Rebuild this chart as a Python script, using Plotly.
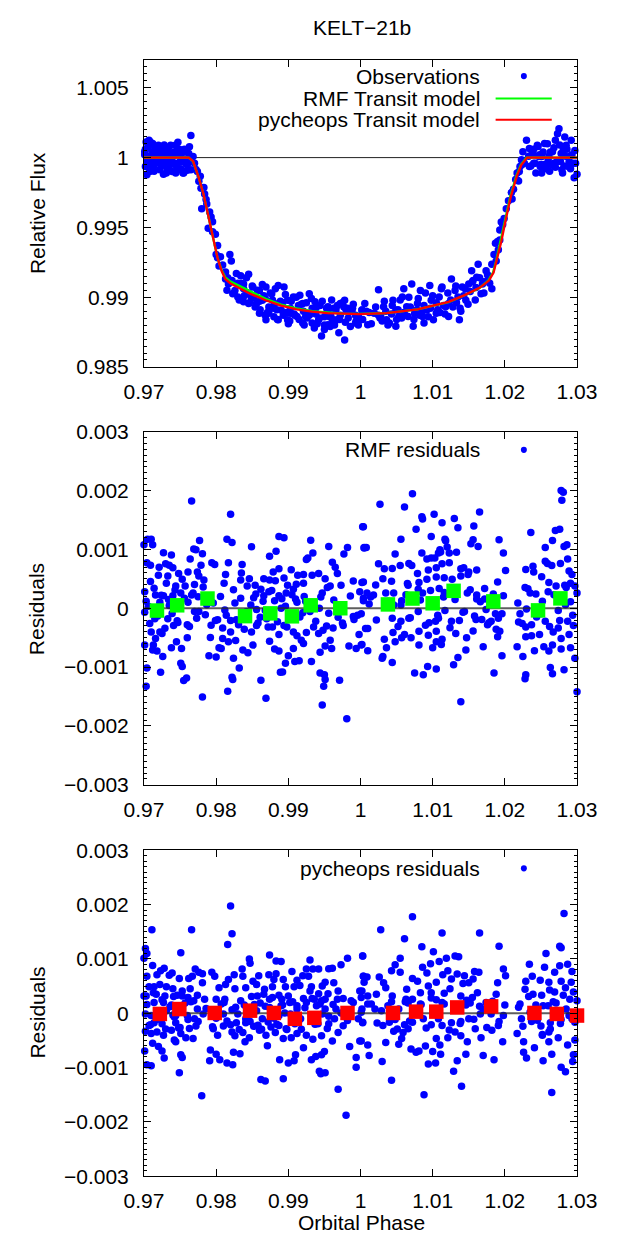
import numpy as np
import plotly.graph_objects as go

FONT = "Liberation Sans, Arial, sans-serif"

# ---- observations (top panel) ----
obs_phase = [
    0.9703, 0.9707, 0.9712, 0.9701, 0.9705, 0.9702, 0.9704, 0.9710, 0.9716, 0.9720, 0.9722, 0.9727,
    0.9729, 0.9733, 0.9735, 0.9737, 0.9740, 0.9743, 0.9746, 0.9748, 0.9752, 0.9755, 0.9757, 0.9759,
    0.9761, 0.9763, 0.9765, 0.9765, 0.9768, 0.9770, 0.9714, 0.9718, 0.9731, 0.9744, 0.9725, 0.9750,
    0.9702, 0.9706, 0.9712, 0.9719, 0.9723, 0.9728, 0.9731, 0.9736, 0.9741, 0.9744, 0.9748, 0.9751,
    0.9756, 0.9759, 0.9762, 0.9747, 0.9709, 0.9727, 0.9739, 0.9754,
    0.9701, 0.9704, 0.9706, 0.9708, 0.9711, 0.9713, 0.9715, 0.9717, 0.9721, 0.9724, 0.9726, 0.9730,
    0.9732, 0.9734, 0.9738, 0.9742, 0.9745, 0.9749, 0.9753, 0.9758, 0.9760, 0.9764,
    0.9772, 0.9778, 0.9783, 0.9780, 0.9787, 0.9793, 0.9789, 0.9795, 0.9800, 0.9802, 0.9819, 0.9821,
    0.9804, 0.9813, 0.9817, 0.9815, 0.9823, 0.9774, 0.9776, 0.9779, 0.9784, 0.9786, 0.9791, 0.9795,
    0.9799, 0.9802, 0.9806, 0.9809, 0.9813, 0.9816,
    0.9834, 0.9845, 0.9838, 0.9826, 0.9830, 0.9843, 0.9851, 0.9860, 0.9849, 0.9864, 0.9869, 0.9877,
    0.9886, 0.9894, 0.9881, 0.9890, 0.9873, 0.9860, 0.9869, 0.9899, 0.9907, 0.9916, 0.9920, 0.9929,
    0.9937, 0.9903, 0.9912, 0.9924, 0.9933, 0.9942, 0.9946, 0.9950, 0.9959, 0.9963, 0.9972, 0.9978,
    0.9980, 0.9989, 0.9997, 0.9993, 1.0002, 0.9937, 0.9955, 0.9967, 0.9978, 0.9970, 0.9931, 0.9899,
    0.9920, 0.9886, 0.9845, 0.9838, 0.9856, 0.9955,
    0.9830, 0.9838, 0.9845, 0.9852, 0.9860, 0.9866, 0.9873, 0.9878, 0.9884, 0.9892, 0.9897, 0.9903,
    0.9909, 0.9914, 0.9921, 0.9926, 0.9933, 0.9938, 0.9944, 0.9950, 0.9955, 0.9961, 0.9966, 0.9972,
    0.9977, 0.9983, 0.9988, 0.9994, 0.9868, 0.9880, 0.9902, 0.9940, 0.9958,
    0.9822, 0.9825, 0.9828, 0.9832, 0.9835, 0.9839, 0.9842, 0.9846, 0.9850, 0.9854, 0.9857, 0.9861,
    0.9864, 0.9868, 0.9871, 0.9875, 0.9879, 0.9882, 0.9885, 0.9889, 0.9893, 0.9896, 0.9900, 0.9904,
    0.9908, 0.9911, 0.9915, 0.9918, 0.9922, 0.9925, 0.9929, 0.9932, 0.9936, 0.9939, 0.9943, 0.9947,
    0.9950, 0.9953, 0.9957, 0.9960, 0.9964, 0.9968, 0.9971, 0.9975, 0.9979, 0.9982, 0.9986, 0.9990,
    0.9993, 0.9997,
    0.9997, 1.0002, 0.9995, 1.0010, 1.0006, 1.0019, 1.0025, 1.0028, 1.0036, 1.0032, 1.0040, 1.0045,
    1.0049, 1.0053, 1.0058, 1.0060, 1.0064, 1.0071, 1.0073, 1.0075, 1.0079, 1.0083, 1.0086, 1.0092,
    1.0096, 1.0098, 1.0105, 1.0109, 1.0113, 1.0118, 1.0122, 1.0126, 1.0131, 1.0135, 1.0137, 1.0141,
    1.0146, 1.0150, 1.0154, 1.0156, 1.0163, 1.0161, 1.0167, 1.0169, 1.0176, 1.0182, 1.0122, 1.0101,
    1.0088, 1.0049, 1.0066,
    1.0012, 1.0025, 1.0035, 1.0043, 1.0052, 1.0060, 1.0069, 1.0078, 1.0088, 1.0097, 1.0105, 1.0115,
    1.0125, 1.0133, 1.0143, 1.0152, 1.0160, 1.0170, 1.0176, 1.0003, 1.0030, 1.0057, 1.0082, 1.0110,
    1.0138,
    1.0008, 1.0015, 1.0021, 1.0027, 1.0033, 1.0038, 1.0044, 1.0050, 1.0055, 1.0062, 1.0067, 1.0074,
    1.0080, 1.0085, 1.0090, 1.0094, 1.0100, 1.0107, 1.0112, 1.0117, 1.0121, 1.0128, 1.0132, 1.0139,
    1.0145, 1.0149, 1.0155, 1.0159, 1.0165, 1.0171, 1.0174, 1.0179,
    1.0182, 1.0185, 1.0187, 1.0190, 1.0193, 1.0195, 1.0199, 1.0202, 1.0210, 1.0212, 1.0215, 1.0219,
    1.0217, 1.0221, 1.0223, 1.0225, 1.0227, 1.0197, 1.0205, 1.0209, 1.0217, 1.0220, 1.0224, 1.0188,
    1.0191, 1.0193,
    1.0230, 1.0234, 1.0238, 1.0240, 1.0245, 1.0249, 1.0251, 1.0255, 1.0260, 1.0262, 1.0266, 1.0270,
    1.0273, 1.0275, 1.0277, 1.0279, 1.0281, 1.0285, 1.0288, 1.0290, 1.0292, 1.0294, 1.0296, 1.0234,
    1.0247, 1.0257, 1.0268, 1.0283, 1.0251,
    1.0233, 1.0240, 1.0248, 1.0255, 1.0263, 1.0270, 1.0276, 1.0284, 1.0291, 1.0297, 1.0243, 1.0259,
    1.0280,
    1.0236, 1.0239, 1.0242, 1.0246, 1.0250, 1.0253, 1.0256, 1.0261, 1.0264, 1.0268, 1.0272, 1.0278,
    1.0282, 1.0286, 1.0289, 1.0293, 1.0298, 1.0300,
]
obs_flux = [
    1.00112, 1.00124, 1.00101, 1.00042, 1.00007, 0.99937, 0.99878, 0.99960, 1.00030, 1.00089, 0.99913, 1.00065,
    0.99984, 1.00042, 0.99937, 1.00089, 1.00007, 0.99960, 1.00065, 0.99913, 1.00030, 0.99890, 0.99984, 1.00054,
    0.99960, 1.00077, 1.00159, 0.99913, 1.00007, 0.99960, 0.99902, 0.99984, 0.99890, 0.99890, 1.00007, 0.99972,
    1.00060, 0.99930, 1.00000, 1.00060, 0.99980, 1.00090, 0.99950, 1.00020, 0.99960, 1.00090, 1.00020, 0.99920,
    1.00060, 0.99950, 1.00030, 1.00110, 1.00110, 0.99880, 0.99900, 0.99890,
    1.00020, 0.99970, 1.00080, 0.99900, 1.00040, 0.99930, 1.00070, 0.99960, 1.00030, 0.99940, 1.00050, 1.00010,
    0.99920, 1.00070, 0.99980, 1.00040, 0.99940, 1.00060, 0.99970, 1.00040, 0.99910, 0.99990,
    0.99914, 0.99867, 0.99785, 0.99633, 0.99668, 0.99575, 0.99493, 0.99469, 0.99306, 0.99282, 0.99306, 0.99259,
    0.99224, 0.99130, 0.99095, 0.99049, 0.99025, 0.99900, 0.99830, 0.99780, 0.99740, 0.99700, 0.99610, 0.99540,
    0.99450, 0.99370, 0.99290, 0.99230, 0.99180, 0.99140,
    0.99154, 0.99165, 0.99095, 0.99048, 0.99002, 0.99025, 0.99072, 0.99048, 0.98990, 0.98978, 0.99072, 0.99025,
    0.99084, 0.99072, 0.98955, 0.98908, 0.98885, 0.98885, 0.98838, 0.98978, 0.99002, 0.99013, 0.98955, 0.99025,
    0.98967, 0.98885, 0.98862, 0.98862, 0.98815, 0.98838, 0.98721, 0.98768, 0.98862, 0.98920, 0.98955, 0.98978,
    0.98908, 0.98920, 0.98862, 0.98815, 0.98908, 0.98908, 0.98932, 0.98838, 0.98693, 0.98745, 0.98885, 0.98838,
    0.98815, 0.98838, 0.98955, 0.98967, 0.98955, 0.98803,
    0.99100, 0.99060, 0.99030, 0.99000, 0.98970, 0.99010, 0.98930, 0.98980, 0.98910, 0.98960, 0.98890, 0.98920,
    0.98870, 0.98940, 0.98900, 0.98850, 0.98920, 0.98880, 0.98940, 0.98860, 0.98900, 0.98840, 0.98910, 0.98870,
    0.98930, 0.98850, 0.98900, 0.98830, 0.98870, 0.98860, 0.98830, 0.98810, 0.98790,
    0.99120, 0.99030, 0.99170, 0.98980, 0.99100, 0.99010, 0.99140, 0.98960, 0.99080, 0.98930, 0.99050, 0.98910,
    0.99090, 0.98990, 0.98890, 0.99030, 0.98920, 0.99060, 0.98840, 0.98970, 0.98870, 0.99020, 0.98810, 0.98970,
    0.98880, 0.99000, 0.98840, 0.98950, 0.98800, 0.98960, 0.98870, 0.98990, 0.98780, 0.98930, 0.98850, 0.98970,
    0.98800, 0.98920, 0.98860, 0.98980, 0.98800, 0.98940, 0.98840, 0.98960, 0.98820, 0.98920, 0.98790, 0.98950,
    0.98870, 0.98800,
    0.98862, 0.98908, 0.98815, 0.98803, 0.98955, 0.98885, 0.99053, 0.98862, 0.98838, 0.98932, 0.98815, 0.98978,
    0.98908, 0.98862, 0.99002, 0.99060, 0.98932, 0.99095, 0.98791, 0.98885, 0.98955, 0.99048, 0.98862, 0.98908,
    0.99084, 0.98978, 0.98885, 0.99002, 0.99072, 0.98932, 0.98955, 0.99130, 0.99048, 0.99002, 0.98838, 0.99072,
    0.98978, 0.99095, 0.99189, 0.99119, 0.99235, 0.99142, 0.99025, 0.99095, 0.99119, 0.99060, 0.98862, 0.98838,
    0.98815, 0.98791, 0.98862,
    0.98890, 0.98870, 0.98900, 0.98880, 0.98910, 0.98890, 0.98930, 0.98910, 0.98940, 0.98920, 0.98960, 0.98940,
    0.98980, 0.98960, 0.99010, 0.99040, 0.99070, 0.99110, 0.99160, 0.98840, 0.98830, 0.98850, 0.98870, 0.98890,
    0.98920,
    0.98900, 0.98810, 0.98930, 0.98850, 0.98970, 0.98800, 0.98940, 0.98840, 0.98980, 0.98870, 0.99000, 0.98840,
    0.98990, 0.98890, 0.99030, 0.98860, 0.99010, 0.98910, 0.99060, 0.98880, 0.99030, 0.98930, 0.99080, 0.98900,
    0.99060, 0.98950, 0.99110, 0.98980, 0.99140, 0.99030, 0.99190, 0.99100,
    0.99235, 0.99306, 0.99387, 0.99399, 0.99481, 0.99539, 0.99563, 0.99633, 0.99703, 0.99773, 0.99843, 0.99832,
    0.99890, 0.99937, 0.99984, 1.00042, 0.99960, 0.99520, 0.99690, 0.99750, 0.99840, 0.99900, 0.99950, 0.99260,
    0.99340, 0.99410,
    1.00124, 1.00065, 1.00030, 0.99960, 1.00089, 0.99937, 1.00007, 1.00101, 0.99984, 0.99902, 1.00042, 1.00124,
    1.00171, 1.00206, 0.99972, 0.99913, 1.00054, 1.00089, 0.99937, 1.00007, 1.00124, 0.99960, 0.99855, 0.99937,
    1.00007, 0.99937, 0.99960, 1.00147, 0.99890,
    1.00010, 1.00060, 1.00020, 0.99950, 1.00040, 0.99930, 1.00090, 1.00010, 0.99920, 1.00050, 0.99890, 1.00100,
    0.99890,
    0.99940, 1.00030, 0.99960, 1.00080, 0.99950, 1.00040, 0.99920, 1.00010, 0.99950, 1.00070, 0.99970, 1.00030,
    0.99940, 1.00060, 0.99970, 1.00020, 0.99960, 0.99880,
]

# transit models
model_phase = [0.9700, 0.9762, 0.9768, 0.9776, 0.97825, 0.9789, 0.97954, 0.98019, 0.98075, 0.98126, 0.9820,
               0.98255, 0.9847, 0.98685, 0.9890, 0.99115, 0.9933, 0.99545, 0.9975, 0.9998, 1.0036, 1.0079,
               1.0122, 1.01435, 1.0165, 1.0178, 1.01844, 1.01887, 1.01951, 1.02016, 1.0208, 1.02166, 1.0223,
               1.0231, 1.0300]
pyc_model_flux = [1.0, 1.0, 0.99975, 0.99855, 0.99738, 0.99586, 0.99446, 0.99282, 0.99189, 0.99130, 0.99098,
                  0.99084, 0.99025, 0.98978, 0.98939, 0.98913, 0.98896, 0.98885, 0.98880, 0.98878, 0.98885,
                  0.98913, 0.98967, 0.99013, 0.99067, 0.99119, 0.99177, 0.99259, 0.99399, 0.99563, 0.99715,
                  0.99867, 0.99949, 1.0, 1.0]
rmf_model_phase = [0.9700, 0.9762, 0.9768, 0.9776, 0.97825, 0.9789, 0.97954, 0.98019, 0.98075, 0.98126, 0.9820,
                   0.98255, 0.9847, 0.98685, 0.9890, 0.99115, 0.9933, 0.99545, 0.9975, 0.9998, 1.0036, 1.0079,
                   1.0122, 1.01435, 1.0165, 1.0177, 1.01836, 1.01879, 1.01943, 1.02008, 1.02072, 1.02158,
                   1.02222, 1.0230, 1.0300]
rmf_model_flux = [1.0, 1.0, 0.99972, 0.99855, 0.99738, 0.99586, 0.99446, 0.99282, 0.99195, 0.99142, 0.99112,
                  0.99098, 0.99038, 0.98988, 0.98947, 0.98919, 0.98900, 0.98888, 0.98882, 0.98880, 0.98886,
                  0.98912, 0.98965, 0.99012, 0.99066, 0.99119, 0.99177, 0.99259, 0.99399, 0.99563, 0.99715,
                  0.99867, 0.99949, 1.0, 1.0]

# ---- RMF residuals (ppm) ----
rmf_phase = [
    0.9766, 0.9820, 1.0003, 0.9705, 0.9710, 0.9700, 0.9712, 0.9777, 0.9815, 0.9822, 0.9849, 0.9887,
    0.9894, 0.9931, 0.9956, 0.9982, 1.0005, 0.9769, 0.9772, 0.9781, 0.9764, 0.9727, 0.9738, 0.9704,
    0.9709, 0.9730, 0.9735, 0.9779, 0.9794, 0.9798, 0.9817, 0.9836, 0.9874, 0.9883, 0.9925, 0.9927,
    0.9934, 0.9977, 0.9961, 0.9965, 0.9721, 0.9740, 0.9761, 0.9774, 0.9813, 0.9835, 0.9866, 0.9874,
    0.9882, 0.9894, 0.9904, 0.9913, 0.9921, 0.9933, 0.9942, 0.9951, 0.9968, 0.9720, 0.9733, 0.9748,
    0.9753, 0.9776, 0.9783, 0.9811, 0.9824, 0.9834, 0.9846, 0.9854, 0.9862, 0.9879, 0.9887, 0.9899,
    0.9911, 0.9921, 0.9958, 0.9973, 0.9990, 1.0004, 0.9709, 0.9731, 0.9744, 0.9757, 0.9770, 0.9782,
    0.9716, 0.9727, 0.9740, 0.9751, 0.9766, 0.9775, 0.9796, 0.9834, 0.9843, 0.9855, 0.9866, 0.9873,
    0.9887, 0.9897, 0.9907, 0.9910, 0.9922, 0.9947, 0.9954, 0.9999, 1.0004, 0.9701, 0.9706, 0.9722,
    0.9735, 0.9761, 0.9770, 0.9785, 0.9802, 0.9812, 0.9820, 0.9828, 0.9848, 0.9856, 0.9861, 0.9868,
    0.9881, 0.9890, 0.9896, 0.9912, 0.9920, 0.9930, 0.9943, 0.9956, 0.9969, 0.9990, 1.0001, 0.9701,
    0.9715, 0.9733, 0.9746, 0.9741, 0.9760, 0.9776, 0.9792, 0.9799, 0.9809, 0.9820, 0.9827, 0.9839,
    0.9849, 0.9856, 0.9872, 0.9878, 0.9887, 0.9894, 0.9901, 0.9907, 0.9912, 0.9918, 0.9925, 0.9935,
    0.9942, 0.9948, 0.9958, 0.9962, 0.9976, 0.9991, 0.9998, 1.0007, 0.9710, 0.9716, 0.9722, 0.9713,
    0.9725, 0.9745, 0.9752, 0.9738, 0.9712, 0.9718, 0.9726, 0.9701, 0.9760, 0.9790, 0.9800, 0.9804,
    0.9817, 0.9824, 0.9837, 0.9844, 0.9851, 0.9874, 0.9881, 0.9887, 0.9900, 0.9896, 0.9909, 0.9915,
    0.9907, 0.9921, 0.9932, 0.9944, 0.9951, 0.9960, 0.9984, 0.9994, 1.0001, 0.9751, 0.9753, 0.9723,
    0.9704, 0.9703, 0.9755, 0.9759, 0.9822, 0.9823, 0.9832, 0.9889, 0.9892, 0.9944, 0.9950, 0.9951,
    0.9949, 0.9971, 0.9862, 0.9781, 0.9816, 0.9869, 0.9947, 0.9981, 0.9809, 0.9807,
    1.0072, 1.0027, 1.0061, 1.0278, 1.0281, 1.0279, 1.0004, 1.0165, 1.0130, 1.0085, 1.0086, 1.0102,
    1.0113, 1.0077, 1.0135, 1.0157, 1.0236, 1.0276, 1.0270, 1.0056, 1.0005, 1.0008, 1.0117, 1.0118,
    1.0156, 1.0153, 1.0163, 1.0192, 1.0198, 1.0266, 1.0256, 1.0282, 1.0286, 1.0048, 1.0098, 1.0110,
    1.0108, 1.0111, 1.0120, 1.0123, 1.0133, 1.0085, 1.0092, 1.0098, 1.0103, 1.0113, 1.0123, 1.0287,
    1.0256, 1.0259, 1.0277, 1.0025, 1.0033, 1.0044, 1.0055, 1.0067, 1.0071, 1.0079, 1.0094, 1.0105,
    1.0139, 1.0143, 1.0150, 1.0161, 1.0201, 1.0229, 1.0239, 1.0240, 1.0265, 1.0289, 1.0293, 1.0002,
    1.0021, 1.0031, 1.0043, 1.0065, 1.0081, 1.0092, 1.0105, 1.0116, 1.0127, 1.0139, 1.0149, 1.0172,
    1.0190, 1.0228, 1.0251, 1.0261, 1.0271, 1.0283, 1.0291, 1.0297, 1.0009, 1.0018, 1.0035, 1.0046,
    1.0057, 1.0066, 1.0080, 1.0086, 1.0109, 1.0116, 1.0126, 1.0152, 1.0161, 1.0172, 1.0198, 1.0235,
    1.0243, 1.0260, 1.0285, 1.0300, 1.0004, 1.0012, 1.0046, 1.0056, 1.0080, 1.0117, 1.0142, 1.0144,
    1.0161, 1.0174, 1.0187, 1.0196, 1.0221, 1.0230, 1.0250, 1.0274, 1.0291, 1.0044, 1.0056, 1.0067,
    1.0095, 1.0104, 1.0108, 1.0126, 1.0160, 1.0168, 1.0181, 1.0219, 1.0229, 1.0237, 1.0256, 1.0274,
    1.0287, 1.0295, 1.0010, 1.0033, 1.0045, 1.0057, 1.0061, 1.0070, 1.0081, 1.0094, 1.0105, 1.0113,
    1.0132, 1.0147, 1.0156, 1.0190, 1.0193, 1.0229, 1.0237, 1.0248, 1.0267, 1.0278, 1.0289, 1.0002,
    1.0010, 1.0036, 1.0048, 1.0081, 1.0100, 1.0105, 1.0112, 1.0146, 1.0170, 1.0196, 1.0217, 1.0225,
    1.0241, 1.0254, 1.0261, 1.0266, 1.0278, 1.0291, 1.0297, 1.0031, 1.0044, 1.0030, 1.0135, 1.0129,
    1.0075, 1.0087, 1.0093, 1.0105, 1.0185, 1.0229, 1.0228, 1.0263, 1.0266, 1.0282, 1.0300, 1.0139,
    1.0178, 1.0188,
    0.9703, 0.9708, 0.9714, 0.9719, 0.9724, 0.9729, 0.9734, 0.9739, 0.9743, 0.9747, 0.9756, 0.9763,
    0.9768, 0.9773, 0.9787, 0.9793, 0.9806, 0.9814, 0.9826, 0.9831, 0.9842, 0.9852, 0.9858, 0.9865,
    0.9870, 0.9877, 0.9885, 0.9891, 0.9898, 0.9905, 0.9916, 0.9924, 0.9938, 0.9945, 0.9953, 0.9963,
    0.9975, 0.9986, 0.9996, 1.0014, 1.0022, 1.0039, 1.0052, 1.0063, 1.0069, 1.0083, 1.0090, 1.0097,
    1.0107, 1.0115, 1.0124, 1.0131, 1.0137, 1.0148, 1.0158, 1.0166, 1.0176, 1.0184, 1.0191, 1.0218,
    1.0224, 1.0232, 1.0244, 1.0252, 1.0262, 1.0268, 1.0276, 1.0284, 1.0294,
]
rmf_resid_ppm = [
    1821, 1598, 1386, 1173, 1173, 1078, 1078, 1151, 1173, 1117, 1045, 1218,
    1196, 1157, 1050, 1034, 1022, 1006, 994, 927, 838, 944, 905, 771,
    732, 754, 732, 732, 771, 743, 771, 743, 883, 967, 827, 855,
    939, 922, 782, 698, 698, 687, 615, 615, 575, 598, 503, 480,
    469, 514, 654, 559, 575, 559, 592, 503, 592, 559, 548, 592,
    492, 548, 480, 425, 313, 480, 503, 391, 324, 615, 670, 391,
    408, 425, 380, 391, 464, 447, 453, 425, 380, 380, 402, 363,
    223, 212, 212, 257, 223, 196, 89, 168, 380, 240, 212, 279,
    212, 257, 324, 156, 201, 257, 352, 279, 128, 279, 34, 101,
    45, 101, -56, -112, -196, -28, -207, -196, 56, -22, -151, -39,
    128, 0, 34, 101, -78, -56, 0, -84, -151, -140, -95, -67,
    -179, -179, -212, -291, -279, -56, -497, -207, -335, -402, -548, -358,
    -402, -291, -318, -318, -447, -291, -190, -402, -469, -542, -413, -318,
    -430, -374, -542, -335, -291, -190, -447, -346, -402, -514, -402, -626,
    -430, -570, -682, -670, -710, -726, -821, -626, -503, -805, -827, -670,
    -570, -849, -710, -754, -626, -559, -693, -726, -805, -933, -905, -894,
    -682, -598, -905, -749, -643, -682, -643, -682, -626, -933, -989, -1089,
    -1017, -1324, -1229, -1184, -1173, -1212, -1017, -1089, -1084, -1101, -1128, -1212,
    -1324, -1224, -1224, -1508, -1408, -1531, -1643, -1877, -514, -682,
    1944, 1765, 1721, 2000, 1972, 1833, 1386, 1637, 1525, 1553, 1514, 1598,
    1453, 1341, 1369, 1397, 1285, 1341, 1319, 1173, 1034, 1034, 1173, 1145,
    1162, 1095, 1050, 1162, 939, 1151, 1034, 1050, 1078, 922, 1218, 994,
    939, 955, 1039, 939, 950, 939, 838, 855, 855, 754, 771, 838,
    799, 760, 760, 754, 670, 676, 726, 760, 726, 592, 648, 687,
    670, 687, 615, 648, 642, 659, 715, 615, 726, 631, 575, 436,
    397, 503, 458, 419, 436, 492, 531, 520, 492, 548, 575, 335,
    447, 352, 536, 436, 380, 391, 425, 380, 257, 223, 257, 257,
    128, 391, 324, 257, 335, 268, 279, 313, 223, 156, 212, 257,
    240, 279, 352, 257, 168, 73, 56, 56, -56, -39, -67, -56,
    156, -22, -95, -95, -95, -11, -95, -39, 112, -168, -223, -168,
    -246, -223, -168, -223, -190, -190, -223, -235, -318, -279, -223, -335,
    -223, -291, -346, -525, -413, -503, -447, -503, -391, -458, -391, -525,
    -430, -503, -386, -486, -391, -486, -469, -447, -402, -514, -447, -615,
    -721, -670, -570, -626, -670, -570, -615, -710, -654, -805, -654, -821,
    -721, -654, -726, -626, -693, -670, -849, -821, -922, -849, -838, -961,
    -1101, -1128, -989, -1034, -1101, -1128, -1196, -1006, -1112, -1045, -1419, -1587,
    -246, -358,
    120, -260, 340, -130, 220, -340, 150, -90, 310, -240, 170, -310,
    260, -170, 60, -290, 200, -120, 90, -280, -60, 180, -250, 120,
    -180, 300, -230, 160, -320, 230, -150, 120, -220, 190, -300, 140,
    -250, 210, -120, 190, -200, 120, -310, 230, -160, 140, -290, 300,
    -120, 190, -330, 150, -210, 260, -130, 110, -280, 240, -170, 90,
    -260, 330, -150, 120, -310, 230, -210, 60, -120,
]
rmf_bin_phase = [0.9718, 0.9746, 0.9788, 0.9840, 0.9875, 0.9905, 0.9931, 0.9972, 1.0038, 1.0072,
                 1.0100, 1.0129, 1.0184, 1.0246, 1.0277]
rmf_bin_ppm = [-39, 50, 165, -134, -87, -137, 50, 0, 65, 165, 84, 296, 117, -36, 168]

# ---- pycheops residuals (ppm) ----
pyc_phase = [
    0.9820, 0.9766, 0.9711, 0.9822, 0.9816, 0.9751, 0.9702, 0.9704, 0.9700, 0.9712, 0.9874, 0.9846,
    0.9847, 0.9883, 0.9890, 0.9930, 0.9982, 1.0003, 0.9973, 0.9961, 0.9956, 0.9934, 0.9942, 0.9925,
    0.9905, 0.9728, 0.9723, 0.9739, 0.9735, 0.9771, 0.9776, 0.9781, 0.9794, 0.9798, 0.9825, 0.9836,
    0.9837, 0.9704, 0.9718, 0.9749, 0.9762, 0.9767, 0.9813, 0.9817, 0.9841, 0.9851, 0.9859, 0.9873,
    0.9880, 0.9883, 0.9893, 0.9912, 0.9920, 0.9928, 0.9951, 0.9963, 1.0004, 1.0005, 0.9707, 0.9714,
    0.9722, 0.9731, 0.9740, 0.9753, 0.9764, 0.9781, 0.9804, 0.9826, 0.9856, 0.9867, 0.9878, 0.9896,
    0.9908, 0.9916, 0.9930, 0.9942, 0.9955, 0.9969, 0.9999, 0.9700, 0.9703, 0.9717, 0.9729, 0.9741,
    0.9753, 0.9774, 0.9784, 0.9812, 0.9834, 0.9849, 0.9857, 0.9866, 0.9874, 0.9887, 0.9900, 0.9921,
    0.9936, 0.9946, 0.9968, 0.9976, 1.0001, 0.9714, 0.9727, 0.9738, 0.9765, 0.9774, 0.9811, 0.9822,
    0.9839, 0.9861, 0.9874, 0.9892, 0.9902, 0.9912, 0.9925, 0.9939, 0.9951, 0.9966, 0.9990, 1.0002,
    0.9702, 0.9710, 0.9740, 0.9760, 0.9770, 0.9782, 0.9810, 0.9830, 0.9847, 0.9864, 0.9880, 0.9895,
    0.9917, 0.9947, 0.9956, 0.9973, 1.0001, 0.9707, 0.9714, 0.9725, 0.9744, 0.9748, 0.9761, 0.9772,
    0.9800, 0.9810, 0.9820, 0.9828, 0.9841, 0.9852, 0.9863, 0.9876, 0.9887, 0.9897, 0.9909, 0.9918,
    0.9941, 0.9956, 0.9982, 1.0003, 0.9702, 0.9710, 0.9718, 0.9727, 0.9738, 0.9744, 0.9751, 0.9758,
    0.9768, 0.9802, 0.9822, 0.9826, 0.9837, 0.9846, 0.9860, 0.9869, 0.9882, 0.9893, 0.9904, 0.9912,
    0.9925, 0.9934, 0.9946, 0.9961, 0.9969, 0.9999, 0.9701, 0.9712, 0.9720, 0.9725, 0.9728, 0.9742,
    0.9751, 0.9753, 0.9792, 0.9800, 0.9805, 0.9791, 0.9824, 0.9833, 0.9815, 0.9823, 0.9840, 0.9871,
    0.9888, 0.9900, 0.9908, 0.9910, 0.9921, 0.9932, 0.9938, 0.9946, 0.9950, 0.9985, 0.9994, 0.9994,
    0.9704, 0.9710, 0.9749, 0.9943, 0.9945, 0.9951, 0.9862, 0.9868, 0.9893, 0.9969, 0.9780, 0.9980,
    0.9761, 0.9800, 0.9856, 0.9887, 0.9964, 0.9891, 0.9912, 0.9841, 0.9947, 0.9796, 0.9744, 0.9731,
    0.9932, 0.9933, 0.9951, 0.9903,
    1.0072, 1.0028, 1.0113, 1.0165, 1.0282, 1.0061, 1.0192, 1.0085, 1.0101, 1.0257, 1.0276, 1.0278,
    1.0003, 1.0055, 1.0131, 1.0136, 1.0119, 1.0109, 1.0097, 1.0048, 1.0086, 1.0234, 1.0255, 1.0276,
    1.0287, 1.0043, 1.0055, 1.0092, 1.0114, 1.0121, 1.0134, 1.0144, 1.0158, 1.0164, 1.0198, 1.0201,
    1.0238, 1.0269, 1.0293, 1.0004, 1.0009, 1.0026, 1.0032, 1.0072, 1.0079, 1.0094, 1.0105, 1.0126,
    1.0142, 1.0150, 1.0156, 1.0190, 1.0229, 1.0249, 1.0261, 1.0278, 1.0284, 1.0292, 1.0002, 1.0010,
    1.0022, 1.0035, 1.0044, 1.0064, 1.0072, 1.0083, 1.0098, 1.0116, 1.0124, 1.0139, 1.0155, 1.0162,
    1.0188, 1.0228, 1.0239, 1.0251, 1.0262, 1.0269, 1.0281, 1.0295, 1.0010, 1.0020, 1.0029, 1.0043,
    1.0063, 1.0066, 1.0083, 1.0105, 1.0113, 1.0131, 1.0146, 1.0152, 1.0170, 1.0200, 1.0221, 1.0243,
    1.0260, 1.0271, 1.0290, 1.0300, 1.0003, 1.0040, 1.0048, 1.0061, 1.0072, 1.0087, 1.0098, 1.0113,
    1.0126, 1.0139, 1.0150, 1.0166, 1.0181, 1.0198, 1.0223, 1.0237, 1.0250, 1.0263, 1.0278, 1.0289,
    1.0297, 1.0001, 1.0010, 1.0035, 1.0046, 1.0053, 1.0059, 1.0066, 1.0070, 1.0077, 1.0090, 1.0100,
    1.0110, 1.0121, 1.0131, 1.0139, 1.0148, 1.0159, 1.0167, 1.0182, 1.0191, 1.0197, 1.0217, 1.0226,
    1.0241, 1.0252, 1.0261, 1.0274, 1.0287, 1.0297, 1.0012, 1.0030, 1.0081, 1.0094, 1.0104, 1.0111,
    1.0134, 1.0146, 1.0170, 1.0185, 1.0226, 1.0230, 1.0253, 1.0265, 1.0278, 1.0284, 1.0294, 1.0043,
    1.0088, 1.0129, 1.0140, 1.0265, 1.0295, 1.0057, 1.0105, 1.0261, 1.0053, 1.0031, 1.0174, 1.0235,
    1.0252,
    0.9704, 0.9709, 0.9713, 0.9719, 0.9725, 0.9730, 0.9736, 0.9742, 0.9746, 0.9750, 0.9757, 0.9763,
    0.9769, 0.9775, 0.9786, 0.9795, 0.9807, 0.9815, 0.9827, 0.9832, 0.9843, 0.9853, 0.9858, 0.9868,
    0.9872, 0.9878, 0.9884, 0.9890, 0.9898, 0.9906, 0.9914, 0.9923, 0.9937, 0.9944, 0.9954, 0.9962,
    0.9976, 0.9987, 0.9997, 1.0015, 1.0023, 1.0038, 1.0051, 1.0062, 1.0068, 1.0084, 1.0091, 1.0098,
    1.0108, 1.0116, 1.0123, 1.0132, 1.0138, 1.0147, 1.0157, 1.0165, 1.0175, 1.0183, 1.0192, 1.0219,
    1.0225, 1.0233, 1.0245, 1.0253, 1.0263, 1.0267, 1.0277, 1.0285, 1.0293,
]
pyc_resid_ppm = [
    1976, 1536, 1536, 1464, 1265, 1114, 1193, 1102, 1012, 880, 1072, 1000,
    922, 964, 952, 982, 1012, 1054, 892, 831, 819, 813, 813, 813,
    771, 831, 783, 741, 699, 813, 753, 729, 753, 681, 711, 813,
    681, 681, 711, 639, 639, 681, 530, 620, 470, 590, 693, 711,
    620, 729, 620, 608, 693, 681, 572, 560, 681, 572, 488, 488,
    530, 488, 452, 410, 452, 560, 470, 452, 530, 440, 488, 488,
    488, 512, 410, 361, 361, 410, 410, 319, 319, 349, 319, 307,
    319, 331, 259, 259, 229, 307, 319, 349, 259, 331, 319, 271,
    259, 229, 259, 271, 289, 199, 199, 151, 211, 78, 199, 66,
    151, 187, 108, 151, 199, 139, 199, 139, 78, 78, 199, 78,
    -12, -42, -30, -42, -102, -12, -12, -12, -151, -102, -90, 6,
    -102, -12, -54, 6, 18, -223, -175, -193, -175, -271, -114, -235,
    -90, -235, -211, -175, -175, -241, -295, -253, -223, -283, -193, -295,
    -193, -193, -133, -175, -331, -373, -343, -404, -313, -524, -373, -452,
    -464, -404, -343, -416, -355, -452, -313, -404, -355, -464, -452, -373,
    -404, -476, -416, -512, -355, -512, -693, -554, -614, -693, -825, -494,
    -765, -813, -675, -753, -855, -873, -717, -747, -916, -946, -524, -596,
    -855, -916, -873, -765, -633, -855, -795, -765, -705, -614, -813, -994,
    -946, -964, -1096, -1066, -1114, -1096, -1217, -1247, -1205, -1398, -1518, -1879,
    289, 259, 48, -42, -102, 259, 78, -102, 500, -283, -42, 48,
    488, 271, 259, -12,
    1777, 1536, 1476, 1476, 1837, 1373, 1235, 1223, 1133, 1102, 1235, 1205,
    1054, 1012, 1054, 1042, 1012, 952, 910, 892, 849, 904, 849, 873,
    904, 783, 753, 741, 711, 783, 723, 693, 771, 753, 813, 693,
    681, 753, 771, 681, 669, 669, 560, 639, 590, 500, 572, 633,
    548, 560, 633, 560, 590, 608, 572, 590, 470, 572, 410, 319,
    349, 470, 319, 440, 259, 380, 380, 367, 452, 319, 289, 380,
    349, 440, 349, 331, 428, 392, 331, 392, 169, 78, 48, 211,
    259, 187, 169, 247, 199, 108, 151, 187, 78, 151, 169, 151,
    139, 187, 259, 229, -163, -163, -114, -211, -163, -102, -211, -223,
    -175, -151, -102, -12, -12, -42, -102, -151, -235, -175, -114, -42,
    -163, -512, -584, -536, -331, -572, -355, -283, -657, -717, -602, -705,
    -584, -452, -343, -416, -524, -283, -452, -313, -223, -524, -373, -524,
    -633, -392, -524, -452, -584, -494, -777, -886, -693, -934, -916, -753,
    -873, -753, -777, -855, -717, -825, -873, -753, -994, -1078, -886, -1235,
    -1500, -1066, -1343, -1458, -765, -464, -464, -343, 78, -223, 199, 18,
    -404,
    160, -210, 380, -110, 250, -290, 120, -70, 330, -260, 190, -280,
    230, -150, 90, -250, 170, -140, 110, -300, -40, 160, -220, 130,
    -160, 290, -200, 140, -300, 210, -170, 100, -200, 170, -280, 160,
    -230, 230, -100, 170, -180, 140, -290, 210, -140, 160, -270, 280,
    -100, 170, -310, 130, -190, 240, -110, 130, -260, 220, -150, 110,
    -240, 310, -130, 140, -290, 210, -190, 80, -100,
]
pyc_bin_phase = [0.9722, 0.9749, 0.9798, 0.9847, 0.9880, 0.9909, 0.9936, 0.9982, 1.0045, 1.0077,
                 1.0105, 1.0134, 1.0181, 1.0241, 1.0272, 1.0300]
pyc_bin_ppm = [-12, 78, 6, 48, 6, -102, -84, 6, 6, 30, 30, 108, 127, 6, -12, -42]

# tick labels
phase_ticks = [0.97, 0.98, 0.99, 1.0, 1.01, 1.02, 1.03]
phase_labels = ["0.97", "0.98", "0.99", "1", "1.01", "1.02", "1.03"]
flux_ticks = [0.985, 0.99, 0.995, 1.0, 1.005]
flux_labels = ["0.985", "0.99", "0.995", "1", "1.005"]
resid_ticks = [-0.003, -0.002, -0.001, 0.0, 0.001, 0.002, 0.003]
resid_labels = ["\u22120.003", "\u22120.002", "\u22120.001", "0", "0.001", "0.002", "0.003"]

rmf_resid = np.array(rmf_resid_ppm) * 1e-6
pyc_resid = np.array(pyc_resid_ppm) * 1e-6
rmf_bin = np.array(rmf_bin_ppm) * 1e-6
pyc_bin = np.array(pyc_bin_ppm) * 1e-6

W, H = 622, 1253
BLUE = "#0000ff"
GREEN = "#00ff00"
RED = "#ff0000"
FS = 21


def px(x):
    return x / W


def py(y):
    return 1 - y / H


fig = go.Figure()

# panel 1
fig.add_trace(go.Scatter(x=[0.97, 1.03], y=[1.0, 1.0], mode="lines",
                         line=dict(color="#222222", width=1), xaxis="x", yaxis="y"))
fig.add_trace(go.Scatter(x=obs_phase, y=obs_flux, mode="markers", cliponaxis=False,
                         marker=dict(color=BLUE, size=7.5, line=dict(width=0)), xaxis="x", yaxis="y"))
fig.add_trace(go.Scatter(x=rmf_model_phase, y=rmf_model_flux, mode="lines",
                         line=dict(color=GREEN, width=2.3), xaxis="x", yaxis="y"))
fig.add_trace(go.Scatter(x=model_phase, y=pyc_model_flux, mode="lines",
                         line=dict(color=RED, width=2.3), xaxis="x", yaxis="y"))

# panel 2
fig.add_trace(go.Scatter(x=rmf_phase, y=rmf_resid, mode="markers", cliponaxis=False,
                         marker=dict(color=BLUE, size=7.5, line=dict(width=0)), xaxis="x2", yaxis="y2"))
fig.add_trace(go.Scatter(x=[0.97, 1.03], y=[0, 0], mode="lines",
                         line=dict(color="rgba(40,40,40,0.75)", width=2), xaxis="x2", yaxis="y2"))
fig.add_trace(go.Scatter(x=rmf_bin_phase, y=rmf_bin, mode="markers", cliponaxis=False,
                         marker=dict(color=GREEN, size=14.5, symbol="square", line=dict(width=0)),
                         xaxis="x2", yaxis="y2"))

# panel 3
fig.add_trace(go.Scatter(x=pyc_phase, y=pyc_resid, mode="markers", cliponaxis=False,
                         marker=dict(color=BLUE, size=7.5, line=dict(width=0)), xaxis="x3", yaxis="y3"))
fig.add_trace(go.Scatter(x=[0.97, 1.03], y=[0, 0], mode="lines",
                         line=dict(color="rgba(40,40,40,0.75)", width=2), xaxis="x3", yaxis="y3"))
fig.add_trace(go.Scatter(x=pyc_bin_phase, y=pyc_bin, mode="markers", cliponaxis=False,
                         marker=dict(color=RED, size=14.5, symbol="square", line=dict(width=0)),
                         xaxis="x3", yaxis="y3"))

tickfont = dict(family=FONT, size=FS, color="black")
base = dict(showline=True, linecolor="black", linewidth=1, mirror="allticks", ticks="inside",
            ticklen=7, tickwidth=1, tickcolor="black", showgrid=False, zeroline=False,
            tickfont=tickfont, tickmode="array")

xdom = [px(132.5), px(595.3)]
xax = dict(base, range=[0.97, 1.03], domain=xdom, tickvals=phase_ticks, ticktext=phase_labels,
           ticklabelstandoff=6)


def yax(rng, dom, tv, tt, minor_step):
    return dict(base, range=rng, domain=dom, tickvals=tv, ticktext=tt, ticklabelstandoff=10,
                minor=dict(ticks="inside", ticklen=3.5, tickwidth=1, tickcolor="black",
                           dtick=minor_step, tick0=rng[0], showgrid=False))


fig.update_layout(
    width=W, height=H,
    margin=dict(l=0, r=0, t=0, b=0),
    paper_bgcolor="white", plot_bgcolor="white",
    showlegend=False,
    font=dict(family=FONT, size=FS, color="black"),
    xaxis=dict(xax, anchor="y"),
    xaxis2=dict(xax, anchor="y2"),
    xaxis3=dict(xax, anchor="y3"),
    yaxis=dict(yax([0.985, 1.007], [py(361.6), py(48.8)], flux_ticks, flux_labels, 0.0005), anchor="x"),
    yaxis2=dict(yax([-0.003, 0.003], [py(787.3), py(427.5)], resid_ticks, resid_labels, 0.0001), anchor="x2"),
    yaxis3=dict(yax([-0.003, 0.003], [py(1186), py(854)], resid_ticks, resid_labels, 0.0001), anchor="x3"),
)

ann = []


def text(x, y, s, xanchor="center", angle=0):
    ann.append(dict(x=px(x), y=py(y), xref="paper", yref="paper", text=s, showarrow=False,
                    xanchor=xanchor, yanchor="middle", textangle=angle,
                    font=dict(family=FONT, size=FS, color="black")))


text(365.5, 15.5, "KELT\u221221b")
text(18.5, 204.5, "Relative Flux", angle=-90)
text(18.5, 608, "Residuals", angle=-90)
text(18.5, 1019, "Residuals", angle=-90)
text(365.5, 1233, "Orbital Phase")

# legends (gnuplot style: text right, sample left of it)
text(494, 65.3, "Observations", xanchor="right")
text(494, 88, "RMF Transit model", xanchor="right")
text(494, 109.7, "pycheops Transit model", xanchor="right")
text(494, 446, "RMF residuals", xanchor="right")
text(494, 872.3, "pycheops residuals", xanchor="right")

shapes = []
for yy, col in [(88, GREEN), (109.7, RED)]:
    shapes.append(dict(type="line", xref="paper", yref="paper", x0=px(508.3), x1=px(568.3),
                       y0=py(yy), y1=py(yy), line=dict(color=col, width=2)))
for yy in [65.3, 446, 872.3]:
    shapes.append(dict(type="circle", xref="paper", yref="paper", x0=px(535.3), x1=px(541.7),
                       y0=py(yy + 3.2), y1=py(yy - 3.2), fillcolor=BLUE, line=dict(width=0)))

fig.update_layout(annotations=ann, shapes=shapes)

fig.write_html("out.html", config={"displayModeBar": False},
               post_script="document.body.style.margin='0';document.body.style.overflow='hidden';")
